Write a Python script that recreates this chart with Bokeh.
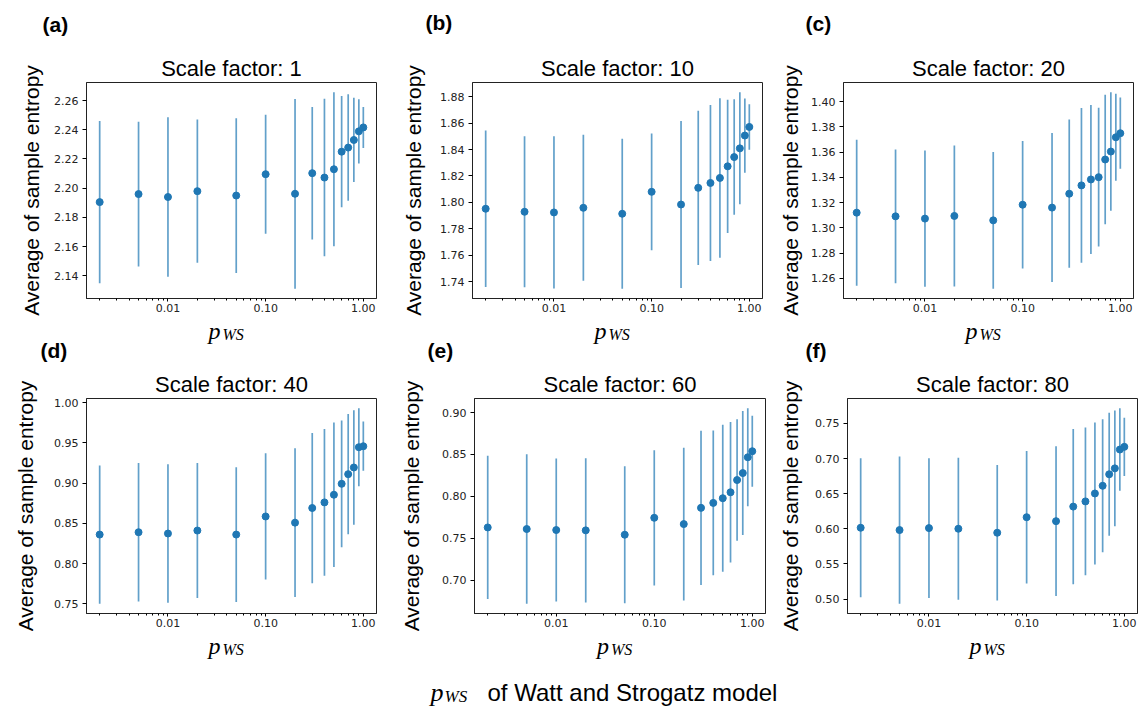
import math
from bokeh.plotting import figure
from bokeh.layouts import row, column
from bokeh.models import (Range1d, FixedTicker, SingleIntervalTicker,
                          CustomJSTickFormatter, Label, ColumnDataSource)
from bokeh.embed import file_html
from bokeh.resources import INLINE

# ---------------- data ----------------
pws = [0.002, 0.005, 0.01, 0.02, 0.05, 0.1, 0.2, 0.3, 0.4, 0.5, 0.6, 0.7, 0.8, 0.9, 1.0]
x_major_ticks = [0.01, 0.1, 1.0]
x_minor_ticks = [0.002, 0.003, 0.004, 0.005, 0.006, 0.007, 0.008, 0.009,
                 0.02, 0.03, 0.04, 0.05, 0.06, 0.07, 0.08, 0.09,
                 0.2, 0.3, 0.4, 0.5, 0.6, 0.7, 0.8, 0.9]
scale_factors = [1, 10, 20, 40, 60, 80]
panel_tags = ["(a)", "(b)", "(c)", "(d)", "(e)", "(f)"]
y_tick_steps = [0.02, 0.02, 0.02, 0.05, 0.05, 0.05]

mean_sf1 = [2.1905, 2.1960, 2.1940, 2.1980, 2.1950, 2.2096, 2.1962, 2.2103,
            2.2073, 2.2130, 2.2250, 2.2278, 2.2330, 2.2389, 2.2416]
err_sf1 = [0.0555, 0.0495, 0.0545, 0.0490, 0.0529, 0.0407, 0.0649, 0.0453,
           0.0539, 0.0526, 0.0380, 0.0364, 0.0288, 0.0220, 0.0140]

mean_sf10 = [1.7952, 1.7929, 1.7924, 1.7959, 1.7914, 1.8080, 1.7984, 1.8110,
             1.8147, 1.8185, 1.8273, 1.8343, 1.8409, 1.8506, 1.8571]
err_sf10 = [0.0592, 0.0571, 0.0576, 0.0552, 0.0567, 0.0442, 0.0632, 0.0584,
            0.0590, 0.0604, 0.0504, 0.0437, 0.0424, 0.0281, 0.0172]

mean_sf20 = [1.3121, 1.3092, 1.3074, 1.3095, 1.3060, 1.3184, 1.3161, 1.3271,
             1.3337, 1.3384, 1.3402, 1.3542, 1.3605, 1.3718, 1.3750]
err_sf20 = [0.0578, 0.0530, 0.0540, 0.0558, 0.0541, 0.0505, 0.0590, 0.0587,
            0.0613, 0.0590, 0.0549, 0.0512, 0.0469, 0.0345, 0.0282]

mean_sf40 = [0.8360, 0.8389, 0.8373, 0.8410, 0.8360, 0.8585, 0.8508, 0.8690,
             0.8760, 0.8855, 0.8991, 0.9111, 0.9194, 0.9446, 0.9458]
err_sf40 = [0.0860, 0.0861, 0.0861, 0.0840, 0.0837, 0.0785, 0.0925, 0.0934,
            0.0912, 0.0897, 0.0788, 0.0748, 0.0711, 0.0484, 0.0306]

mean_sf60 = [0.7628, 0.7609, 0.7597, 0.7593, 0.7541, 0.7743, 0.7668, 0.7862,
             0.7921, 0.7977, 0.8048, 0.8194, 0.8277, 0.8466, 0.8538]
err_sf60 = [0.0856, 0.0892, 0.0854, 0.0860, 0.0817, 0.0808, 0.0913, 0.0922,
            0.0864, 0.0878, 0.0840, 0.0726, 0.0740, 0.0585, 0.0423]

mean_sf80 = [0.6015, 0.5982, 0.6010, 0.6001, 0.5944, 0.6165, 0.6109, 0.6316,
             0.6390, 0.6503, 0.6612, 0.6776, 0.6860, 0.7128, 0.7166]
err_sf80 = [0.0990, 0.1048, 0.0994, 0.1010, 0.0964, 0.0943, 0.1065, 0.1104,
            0.1050, 0.1010, 0.0947, 0.0874, 0.0825, 0.0587, 0.0414]

means = [mean_sf1, mean_sf10, mean_sf20, mean_sf40, mean_sf60, mean_sf80]
errs = [err_sf1, err_sf10, err_sf20, err_sf40, err_sf60, err_sf80]

# ---------------- layout geometry ----------------
# page rows: top strip 45 | panel row 1: 271 | mid strip 51 | panel row 2: 264 | bottom strip 86
geoms = [
    dict(w=390, h=271, bl=86, br=14, bt=37, bb=18, ys=8),
    dict(w=380, h=271, bl=82, br=8, bt=37, bb=18, ys=12),
    dict(w=370, h=271, bl=73, br=7, bt=37, bb=18, ys=6),
    dict(w=390, h=264, bl=86, br=14, bt=30, bb=18, ys=14),
    dict(w=380, h=264, bl=84, br=5, bt=30, bb=18, ys=16),
    dict(w=370, h=264, bl=77, br=3, bt=30, bb=18, ys=10),
]

BLUE = "#1f77b4"
SANS = "Liberation Sans"
SERIF = "Liberation Serif"


def make_panel(i):
    g = geoms[i]
    mean, err = means[i], errs[i]
    lower = [m - e for m, e in zip(mean, err)]
    upper = [m + e for m, e in zip(mean, err)]
    lo, hi = min(lower), max(upper)
    pad = 0.05 * (hi - lo)
    lx0, lx1 = math.log10(pws[0]), math.log10(pws[-1])
    xpad = 0.05 * (lx1 - lx0)

    p = figure(width=g["w"], height=g["h"], x_axis_type="log",
               x_range=Range1d(10 ** (lx0 - xpad), 10 ** (lx1 + xpad)),
               y_range=Range1d(lo - pad, hi + pad),
               output_backend="svg", toolbar_location=None,
               min_border_left=g["bl"], min_border_right=g["br"],
               min_border_top=g["bt"], min_border_bottom=g["bb"])
    p.xgrid.visible = False
    p.ygrid.visible = False
    p.outline_line_color = "#222222"
    p.outline_line_width = 1
    p.outline_line_alpha = 1.0
    p.background_fill_color = "white"
    p.border_fill_color = "white"

    p.title.text = f"Scale factor: {scale_factors[i]}"
    p.title.align = "center"
    p.title.text_font = SANS
    p.title.text_font_size = "22px"
    p.title.text_font_style = "normal"
    p.title.text_color = "black"
    p.title.standoff = 4

    # x axis
    p.xaxis.ticker = FixedTicker(ticks=x_major_ticks, minor_ticks=x_minor_ticks)
    p.xaxis.formatter = CustomJSTickFormatter(code="return tick.toFixed(2);")
    p.xaxis.major_label_text_font = "DejaVu Sans"
    p.xaxis.major_label_text_font_size = "11px"
    p.xaxis.major_label_text_color = "#222222"
    p.xaxis.major_label_standoff = 2
    p.xaxis.major_tick_out = 3
    p.xaxis.major_tick_in = 0
    p.xaxis.minor_tick_out = 2
    p.xaxis.minor_tick_in = 0
    p.xaxis.axis_line_color = "#222222"

    # y axis
    p.yaxis.ticker = SingleIntervalTicker(interval=y_tick_steps[i], num_minor_ticks=0)
    p.yaxis.formatter = CustomJSTickFormatter(code="return tick.toFixed(2);")
    p.yaxis.major_label_text_font = "DejaVu Sans"
    p.yaxis.major_label_text_font_size = "11px"
    p.yaxis.major_label_text_color = "#222222"
    p.yaxis.major_label_standoff = 4
    p.yaxis.major_tick_out = 4
    p.yaxis.major_tick_in = 0
    p.yaxis.minor_tick_line_color = None
    p.yaxis.axis_line_color = "#222222"
    p.yaxis.axis_label = "Average of sample entropy"
    p.yaxis.axis_label_text_font = SANS
    p.yaxis.axis_label_text_font_size = "21px"
    p.yaxis.axis_label_text_font_style = "normal"
    p.yaxis.axis_label_text_color = "black"
    p.yaxis.axis_label_standoff = g["ys"]

    src = ColumnDataSource(dict(x=pws, mean=mean, lower=lower, upper=upper))
    p.segment(x0="x", y0="lower", x1="x", y1="upper", source=src,
              line_color=BLUE, line_alpha=0.7, line_width=1.7)
    p.scatter(x="x", y="mean", source=src, size=7, fill_color=BLUE,
              line_color=BLUE)
    return p


def strip(h):
    s = figure(width=1140, height=h, output_backend="svg", toolbar_location=None,
               x_range=Range1d(0, 1), y_range=Range1d(0, 1), min_border=0)
    s.axis.visible = False
    s.grid.visible = False
    s.outline_line_color = None
    return s


def add_tag(s, text, x, top):
    s.add_layout(Label(x=x, y=top, x_units="canvas", y_units="canvas", text=text,
                       text_font=SANS, text_font_size="21px", text_font_style="bold",
                       text_color="black", text_baseline="top", text_align="left"))


def add_pws(s, x_left, base, p_size=24, ws_size=16, sub_drop=4):
    s.add_layout(Label(x=x_left, y=base, x_units="canvas", y_units="canvas", text="p",
                       text_font=SERIF, text_font_size=f"{p_size}px",
                       text_font_style="italic", text_color="black",
                       text_baseline="alphabetic", text_align="left"))
    s.add_layout(Label(x=x_left + 14, y=base + sub_drop, x_units="canvas", y_units="canvas",
                       text="WS", text_font=SERIF, text_font_size=f"{ws_size}px",
                       text_font_style="italic", text_color="black",
                       text_baseline="alphabetic", text_align="left"))


panels = [make_panel(i) for i in range(6)]

# frame centres (page x) of the six panels
col_x0 = [0, 390, 770]
centres = [col_x0[i % 3] + geoms[i]["bl"] + (geoms[i]["w"] - geoms[i]["bl"] - geoms[i]["br"]) / 2
           for i in range(6)]

top_strip = strip(45)
for i, (tx, tt) in enumerate([(42, 12), (425, 10), (805, 11)]):
    add_tag(top_strip, panel_tags[i], tx, tt)

mid_strip = strip(51)
for i in range(3):
    add_pws(mid_strip, centres[i] - 23, 14)
for j, tx in enumerate([40, 427, 805]):
    add_tag(mid_strip, panel_tags[3 + j], tx, 22)

bottom_strip = strip(86)
for i in range(3, 6):
    add_pws(bottom_strip, centres[i] - 23, 14)
add_pws(bottom_strip, 430, 61, p_size=26, ws_size=17, sub_drop=4)
bottom_strip.add_layout(Label(x=487, y=61, x_units="canvas", y_units="canvas",
                              text="of Watt and Strogatz model",
                              text_font=SANS, text_font_size="24px", text_color="black",
                              text_align="left", text_baseline="alphabetic"))

layout = column(top_strip, row(*panels[:3]), mid_strip, row(*panels[3:]), bottom_strip)

with open("out.html", "w") as f:
    f.write(file_html(layout, INLINE))
